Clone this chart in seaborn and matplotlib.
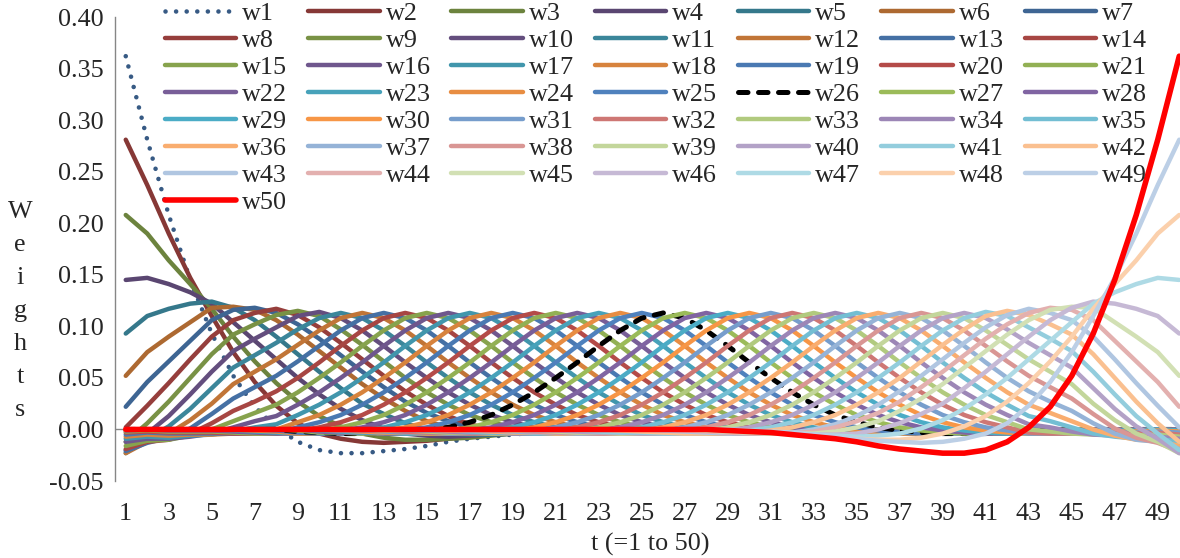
import numpy as np
import matplotlib.pyplot as plt
import seaborn as sns
from matplotlib.colors import to_rgb

t = list(range(1, 51))
labels = [f"w{k}" for k in t]

kernel_half = [0.113, 0.108, 0.096, 0.081, 0.065, 0.050, 0.036, 0.024, 0.014, 0.007,
               0.002, -0.001, -0.003, -0.004, -0.004, -0.004, -0.003, -0.003, -0.002,
               -0.001, -0.001]

# left edge series, t = 1..30 (right edge w39..w50 is the mirror image of these)
w1_edge = [0.362, 0.281, 0.208, 0.145, 0.093, 0.052, 0.022, 0.002, -0.012, -0.020,
           -0.023, -0.023, -0.021, -0.019, -0.016, -0.012, -0.009, -0.007, -0.005, -0.003,
           -0.002, -0.001, 0, 0, 0, 0, 0, 0, 0, 0]
w2_edge = [0.281, 0.237, 0.190, 0.147, 0.110, 0.075, 0.046, 0.023, 0.006, -0.004,
           -0.009, -0.012, -0.013, -0.012, -0.011, -0.009, -0.007, -0.005, -0.003, -0.002,
           -0.001, 0, 0, 0, 0, 0, 0, 0, 0, 0]
w3_edge = [0.208, 0.190, 0.164, 0.141, 0.117, 0.090, 0.066, 0.045, 0.027, 0.013,
           0.003, -0.004, -0.008, -0.010, -0.010, -0.009, -0.008, -0.006, -0.004, -0.003,
           -0.002, -0.001, 0, 0, 0, 0, 0, 0, 0, 0]
w4_edge = [0.145, 0.147, 0.141, 0.133, 0.122, 0.104, 0.086, 0.068, 0.050, 0.034,
           0.020, 0.009, 0.001, -0.004, -0.006, -0.007, -0.006, -0.005, -0.004, -0.003,
           -0.002, -0.001, 0, 0, 0, 0, 0, 0, 0, 0]
w5_edge = [0.093, 0.110, 0.117, 0.122, 0.124, 0.118, 0.106, 0.090, 0.073, 0.056,
           0.040, 0.025, 0.015, 0.006, 0.000, -0.004, -0.005, -0.005, -0.004, -0.003,
           -0.002, -0.001, 0, 0, 0, 0, 0, 0, 0, 0]
w6_edge = [0.052, 0.075, 0.090, 0.104, 0.118, 0.119, 0.116, 0.106, 0.092, 0.076,
           0.060, 0.044, 0.030, 0.018, 0.008, 0.002, -0.002, -0.004, -0.004, -0.004,
           -0.003, -0.002, -0.001, 0, 0, 0, 0, 0, 0, 0]
w7_edge = [0.022, 0.046, 0.066, 0.086, 0.106, 0.116, 0.118, 0.113, 0.102, 0.088,
           0.072, 0.056, 0.041, 0.027, 0.016, 0.008, 0.002, -0.002, -0.004, -0.004,
           -0.004, -0.003, -0.002, -0.001, 0, 0, 0, 0, 0, 0]
w8_edge = [0.002, 0.023, 0.045, 0.068, 0.090, 0.106, 0.113, 0.117, 0.111, 0.099,
           0.084, 0.068, 0.052, 0.037, 0.024, 0.013, 0.005, 0.000, -0.003, -0.004,
           -0.004, -0.004, -0.003, -0.002, -0.001, 0, 0, 0, 0, 0]
w9_edge = [-0.012, 0.006, 0.027, 0.050, 0.073, 0.092, 0.102, 0.111, 0.115, 0.110,
           0.097, 0.082, 0.066, 0.050, 0.036, 0.024, 0.014, 0.007, 0.002, -0.001,
           -0.003, -0.004, -0.004, -0.004, -0.003, -0.002, -0.001, 0, 0, 0]
w10_edge = [-0.020, -0.004, 0.013, 0.034, 0.056, 0.076, 0.088, 0.099, 0.110, 0.114,
            0.108, 0.096, 0.081, 0.065, 0.050, 0.036, 0.024, 0.014, 0.007, 0.002,
            -0.001, -0.003, -0.004, -0.004, -0.004, -0.003, -0.003, -0.002, -0.001, 0]
w11_edge = [-0.023, -0.009, 0.003, 0.020, 0.040, 0.060, 0.072, 0.084, 0.097, 0.108,
            0.113, 0.108, 0.096, 0.081, 0.065, 0.050, 0.036, 0.024, 0.014, 0.007,
            0.002, -0.001, -0.003, -0.004, -0.004, -0.004, -0.003, -0.003, -0.002, -0.001]
w12_edge = [-0.023, -0.012, -0.004, 0.009, 0.025, 0.044, 0.056, 0.068, 0.082, 0.096,
            0.108, 0.113, 0.108, 0.096, 0.081, 0.065, 0.050, 0.036, 0.024, 0.014,
            0.007, 0.002, -0.001, -0.003, -0.004, -0.004, -0.004, -0.003, -0.003, -0.002]

yticks = [-0.05, 0.00, 0.05, 0.10, 0.15, 0.20, 0.25, 0.30, 0.35, 0.40]
xticks = list(range(1, 50, 2))

# weight matrix: row k = series w(k+1), column = t
n = len(t)
W = np.zeros((n, n))
for k in range(n):
    for j in range(n):
        d = abs(k - j)
        if d < len(kernel_half):
            W[k, j] = kernel_half[d]
edge = np.array([w1_edge, w2_edge, w3_edge, w4_edge, w5_edge, w6_edge,
                 w7_edge, w8_edge, w9_edge, w10_edge, w11_edge, w12_edge])
ne, nt = edge.shape
for corner in (W, W[::-1, ::-1]):
    corner[:ne, :nt] = edge
    corner[ne:nt, :ne] = edge[:, ne:nt].T

# excel-like colours: 6 accents, dark -> light
accents = ["#4F81BD", "#C0504D", "#9BBB59", "#8064A2", "#4BACC6", "#F79646"]
shades = [-0.30, -0.22, -0.13, -0.06, 0.0, 0.22, 0.40, 0.55, 0.62]


def shade(c, f):
    c = np.array(to_rgb(c))
    return tuple(c * (1 + f)) if f < 0 else tuple(c + (1 - c) * f)


colors = [shade(accents[i % 6], shades[i // 6]) for i in range(n)]

sns.set_style("white")
plt.rcParams["font.family"] = ["Liberation Serif", "DejaVu Serif"]
FS = 18.8
GREY = "#868686"

fig = plt.figure(figsize=(11.8, 5.58), dpi=100)
ax = fig.add_axes([115 / 1180, 77 / 558, 1075 / 1180, 464 / 558])
ax.axhline(0, color=GREY, lw=1, zorder=1)

handles = []
for i in range(n):
    kw = dict(color=colors[i], lw=3.2, solid_capstyle="round", solid_joinstyle="round")
    if i == 0:
        kw.update(lw=3.3, linestyle=(0, (0.01, 2.3)), dash_capstyle="round")
    elif i == 25:
        kw.update(color="black", lw=3.6, linestyle=(0, (1.9, 2.1)), dash_capstyle="round")
    elif i == n - 1:
        kw.update(color="#FF0000", lw=4.0)
    sns.lineplot(x=t, y=W[i], ax=ax, legend=False, **kw)
    handles.append(ax.lines[-1])

ax.set_xlim(0.5, 50.5)
ax.set_ylim(-0.05, 0.40)
ax.set_yticks(yticks)
ax.set_yticklabels([f"{v:.2f}" for v in yticks])
ax.set_xticks(xticks)
ax.set_xticklabels([str(v) for v in xticks])
for s in ["top", "right", "bottom"]:
    ax.spines[s].set_visible(False)
ax.spines["left"].set_color(GREY)
ax.spines["left"].set_linewidth(1)
ax.tick_params(axis="y", direction="out", length=5, width=1, color=GREY, pad=3, labelsize=FS)
ax.tick_params(axis="x", length=0, pad=16, labelsize=FS)
ax.set_xlabel("")
ax.set_ylabel("")

fig.text(20 / 1180, 1 - 311 / 558, "W\ne\ni\ng\nh\nt\ns", ha="center", va="center",
         fontsize=FS, linespacing=1.64)
fig.text(650 / 1180, 1 - 544 / 558, "t (=1 to 50)", ha="center", va="center", fontsize=FS)

# legend filled row by row, 7 columns
order = [k for c in range(7) for k in range(c, n, 7)]
fig.legend([handles[k] for k in order], [labels[k] for k in order], ncol=7,
           loc="upper left", bbox_to_anchor=(165 / 1180, 1 - 2 / 558), frameon=False,
           fontsize=FS, handlelength=2.73, handletextpad=0.23, columnspacing=0.8,
           labelspacing=0.14, borderpad=0, borderaxespad=0)

fig.savefig("out.png", dpi=100)
